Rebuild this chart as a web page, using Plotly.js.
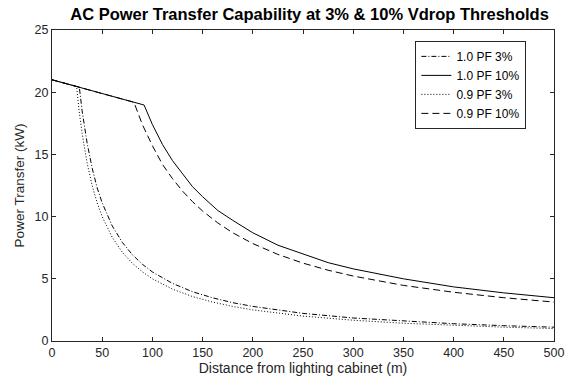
<!DOCTYPE html>
<html>
<head>
<meta charset="utf-8">
<script src="https://cdn.plot.ly/plotly-3.0.1.min.js"></script>
<style>html,body{margin:0;padding:0;background:#fff;}#chart{width:568px;height:385px;}</style>
</head>
<body>
<div id="chart"></div>
<script>
// Distance (m) and power (kW) readings for each curve
const seriesNames = ["1.0 PF 3%", "1.0 PF 10%", "0.9 PF 3%", "0.9 PF 10%"];

const pf10_3_x = [0, 27.2, 30, 35, 40, 45, 50, 60, 70, 80, 90, 100, 120, 140, 160, 180, 200, 250, 300, 350, 400, 450, 500];
const pf10_3_y = [21, 20.4, 18.5, 15.9, 13.9, 12.3, 11.1, 9.25, 7.93, 6.94, 6.17, 5.55, 4.63, 3.96, 3.47, 3.08, 2.78, 2.22, 1.85, 1.59, 1.39, 1.23, 1.11];

const pf10_10_x = [0, 91.7, 100, 110, 120, 130, 140, 150, 165, 180, 200, 225, 250, 275, 300, 350, 400, 450, 500];
const pf10_10_y = [21, 18.97, 17.4, 15.8, 14.5, 13.4, 12.4, 11.6, 10.5, 9.7, 8.7, 7.7, 7.0, 6.3, 5.8, 5.0, 4.35, 3.87, 3.48];

const pf09_3_x = [0, 24.5, 27, 30, 35, 40, 45, 50, 60, 70, 80, 90, 100, 120, 140, 160, 180, 200, 250, 300, 350, 400, 450, 500];
const pf09_3_y = [21, 20.45, 18.5, 16.7, 14.3, 12.5, 11.1, 10.0, 8.33, 7.14, 6.25, 5.56, 5.0, 4.17, 3.57, 3.13, 2.78, 2.5, 2.0, 1.67, 1.43, 1.25, 1.11, 1.0];

const pf09_10_x = [0, 81.6, 90, 100, 110, 120, 130, 140, 150, 165, 180, 200, 225, 250, 275, 300, 350, 400, 450, 500];
const pf09_10_y = [21, 19.19, 17.4, 15.7, 14.2, 13.05, 12.05, 11.2, 10.45, 9.5, 8.7, 7.83, 6.96, 6.26, 5.69, 5.22, 4.47, 3.92, 3.48, 3.13];

const xTicks = [0, 50, 100, 150, 200, 250, 300, 350, 400, 450, 500];
const yTicks = [0, 5, 10, 15, 20, 25];

const FONT = "Liberation Sans, Arial, Helvetica, sans-serif";
const AX = "#262626";

const traces = [
  {x: pf10_3_x, y: pf10_3_y, name: seriesNames[0], mode: "lines",
   line: {color: "#000", width: 1, dash: "5px,2px,1px,2px"}},
  {x: pf10_10_x, y: pf10_10_y, name: seriesNames[1], mode: "lines",
   line: {color: "#000", width: 1, dash: "solid"}},
  {x: pf09_3_x, y: pf09_3_y, name: seriesNames[2], mode: "lines",
   line: {color: "#000", width: 1, dash: "1px,2px"}},
  {x: pf09_10_x, y: pf09_10_y, name: seriesNames[3], mode: "lines",
   line: {color: "#000", width: 1, dash: "7px,4px"}}
];

const axisCommon = {
  showline: true, linecolor: AX, linewidth: 1, mirror: "ticks",
  ticks: "inside", ticklen: 4, tickcolor: AX, tickwidth: 1,
  showgrid: false, zeroline: false,
  tickfont: {family: FONT, size: 12.5, color: AX}
};

const layout = {
  width: 568, height: 385,
  margin: {l: 52, r: 14, t: 30, b: 44},
  paper_bgcolor: "#fff", plot_bgcolor: "#fff",
  showlegend: true,
  title: {text: "<b>AC Power Transfer Capability at 3% & 10% Vdrop Thresholds</b>",
          font: {family: FONT, size: 16.5, color: "#000"}, x: 0.545, xanchor: "center", y: 0.962, yanchor: "middle"},
  xaxis: Object.assign({}, axisCommon, {
    range: [0, 500], tickvals: xTicks, ticktext: xTicks.map(String),
    title: {text: "Distance from lighting cabinet (m)", font: {family: FONT, size: 14, color: AX}, standoff: 4}
  }),
  yaxis: Object.assign({}, axisCommon, {
    range: [0, 25], tickvals: yTicks, ticktext: yTicks.map(String),
    title: {text: "Power Transfer (kW)", font: {family: FONT, size: 13.5, color: AX}, standoff: 6}
  }),
  legend: {
    x: 0.945, xanchor: "right", y: 0.965, yanchor: "top",
    bgcolor: "#fff", bordercolor: AX, borderwidth: 1,
    font: {family: FONT, size: 12, color: "#000"},
    tracegroupgap: 0, itemwidth: 30
  }
};

Plotly.newPlot("chart", traces, layout, {staticPlot: true, displayModeBar: false});
</script>
</body>
</html>
